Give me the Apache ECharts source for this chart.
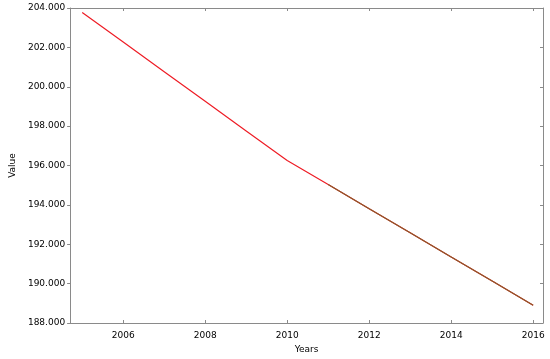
<!DOCTYPE html>
<html>
<head>
<meta charset="utf-8">
<script src="https://cdn.jsdelivr.net/npm/echarts@6/dist/echarts.min.js"></script>
<style>html,body{margin:0;padding:0;background:#fff}#main{width:550px;height:359px}</style>
</head>
<body>
<div id="main"></div>
<script>
var years = [2005, 2006, 2007, 2008, 2009, 2010, 2011, 2012, 2013, 2014, 2015, 2016];
var values = [203.77, 202.27, 200.76, 199.26, 197.75, 196.25, 195.03, 193.80, 192.58, 191.35, 190.13, 188.90];
var years2 = [2011, 2012, 2013, 2014, 2015, 2016];
var values2 = [195.03, 193.80, 192.58, 191.35, 190.13, 188.90];
var xTicks = [2006, 2008, 2010, 2012, 2014, 2016];

var chartDom = document.getElementById('main');
var myChart = echarts.init(chartDom);
var axisColor = '#8a8a8a';
var labelStyle = { fontFamily: 'DejaVu Sans', fontSize: 9, color: '#000' };

var option = {
    animation: false,
    grid: { left: 62, top: 8, right: 7, bottom: 35 },
    xAxis: [
        {
            type: 'value', min: 2004.705, max: 2016.24,
            name: 'Years', nameLocation: 'middle', nameGap: 22,
            nameTextStyle: { fontFamily: 'DejaVu Sans', fontSize: 9, color: '#000' },
            axisLine: { lineStyle: { color: axisColor } },
            axisTick: { inside: true, length: 3, customValues: xTicks, lineStyle: { color: axisColor } },
            axisLabel: Object.assign({ customValues: xTicks, margin: 8, formatter: v => String(v) }, labelStyle),
            splitLine: { show: false }
        },
        {
            type: 'value', min: 2004.705, max: 2016.24, position: 'top',
            axisLine: { lineStyle: { color: axisColor } },
            axisTick: { inside: true, length: 3, customValues: xTicks, lineStyle: { color: axisColor } },
            axisLabel: { show: false },
            splitLine: { show: false }
        }
    ],
    yAxis: [
        {
            type: 'value', min: 188, max: 204, interval: 2,
            name: 'Value', nameLocation: 'middle', nameGap: 49,
            nameTextStyle: { fontFamily: 'DejaVu Sans', fontSize: 9, color: '#000' },
            axisLine: { show: true, lineStyle: { color: axisColor } },
            axisTick: { show: true, inside: false, length: 3, lineStyle: { color: axisColor } },
            axisLabel: Object.assign({ margin: 5, formatter: v => v.toFixed(3) }, labelStyle),
            splitLine: { show: false }
        },
        {
            type: 'value', min: 188, max: 204, interval: 2, position: 'right',
            axisLine: { show: true, lineStyle: { color: axisColor } },
            axisTick: { show: true, inside: true, length: 3, lineStyle: { color: axisColor } },
            axisLabel: { show: false },
            splitLine: { show: false }
        }
    ],
    series: [
        {
            type: 'line', symbol: 'none',
            data: years.map((y, i) => [y, values[i]]),
            lineStyle: { color: '#ee1c25', width: 1.2 }
        },
        {
            type: 'line', symbol: 'none',
            data: years2.map((y, i) => [y, values2[i]]),
            lineStyle: { color: '#8b5a2b', width: 1.2 }
        }
    ]
};

option && myChart.setOption(option);
</script>
</body>
</html>
